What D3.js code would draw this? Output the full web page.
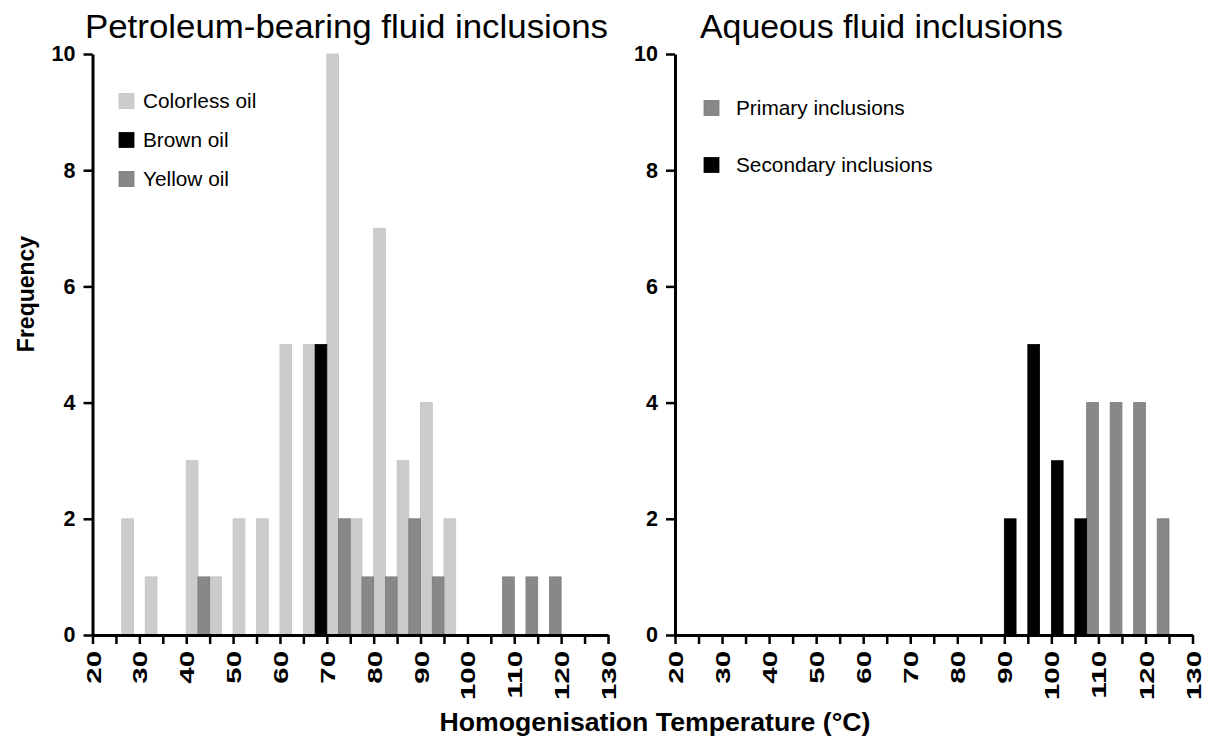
<!DOCTYPE html>
<html>
<head>
<meta charset="utf-8">
<script src="https://cdn.jsdelivr.net/npm/d3@7"></script>
<style>
  html, body { margin: 0; padding: 0; background: #fff; }
  svg { display: block; font-family: "Liberation Sans", Arial, sans-serif; }
</style>
</head>
<body>
<svg id="chart" width="1208" height="753"></svg>
<script>
// ---------- DATA ----------
const xTicks = [20, 25, 30, 35, 40, 45, 50, 55, 60, 65, 70, 75, 80, 85, 90, 95, 100, 105, 110, 115, 120, 125, 130];
const yTicks = [0, 2, 4, 6, 8, 10];
const binWidth = 2.5; // °C per bar

// Petroleum-bearing fluid inclusions (bar centre temperature, frequency)
const colorlessT = [27.5, 32.5, 41.25, 46.25, 51.25, 56.25, 61.25, 66.25, 71.25, 76.25, 81.25, 86.25, 91.25, 96.25];
const colorlessN = [2, 1, 3, 1, 2, 2, 5, 5, 10, 2, 7, 3, 4, 2];
const brownT = [68.75];
const brownN = [5];
const yellowT = [43.75, 73.75, 78.75, 83.75, 88.75, 93.75, 108.75, 113.75, 118.75];
const yellowN = [1, 2, 1, 1, 2, 1, 1, 1, 1];

// Aqueous fluid inclusions
const primaryT = [108.75, 113.75, 118.75, 123.75];
const primaryN = [4, 4, 4, 2];
const secondaryT = [91.25, 96.25, 101.25, 106.25];
const secondaryN = [2, 5, 3, 2];

const titles = ["Petroleum-bearing fluid inclusions", "Aqueous fluid inclusions"];
const yLabel = "Frequency";
const xLabel = "Homogenisation Temperature (°C)";

// ---------- CHART ----------
const svg = d3.select("#chart");
const FONT = '"Liberation Sans", Arial, sans-serif';

const y = d3.scaleLinear().domain([0, 10]).range([635, 54]);

function zip(ts, ns) { return ts.map((t, i) => ({ t, n: ns[i] })); }

const panels = [
  {
    title: titles[0], range: [92.5, 608], titleX: 346.5, titleLen: 523,
    series: [
      { name: "Colorless oil", color: "#cccccc", stroke: "#c2c2c2", data: zip(colorlessT, colorlessN) },
      { name: "Brown oil", color: "#000000", stroke: "#000000", data: zip(brownT, brownN) },
      { name: "Yellow oil", color: "#888888", stroke: "#7a7a7a", data: zip(yellowT, yellowN) }
    ],
    legend: { x: 119, y0: 101, dy: 39, gap: 24 }
  },
  {
    title: titles[1], range: [675, 1192.5], titleX: 881.5, titleLen: 363,
    series: [
      { name: "Primary inclusions", color: "#888888", stroke: "#7a7a7a", data: zip(primaryT, primaryN) },
      { name: "Secondary inclusions", color: "#000000", stroke: "#000000", data: zip(secondaryT, secondaryN) }
    ],
    legend: { x: 704, y0: 108, dy: 57, gap: 32 }
  }
];

panels.forEach(p => {
  const x = d3.scaleLinear().domain([20, 130]).range(p.range);
  const g = svg.append("g");

  // bars
  p.series.forEach(s => {
    g.append("g").selectAll("rect").data(s.data).enter().append("rect")
      .attr("x", d => x(d.t - binWidth / 2))
      .attr("width", d => x(d.t + binWidth / 2) - x(d.t - binWidth / 2))
      .attr("y", d => y(d.n))
      .attr("height", d => y(0) - y(d.n))
      .attr("fill", s.color)
      .attr("stroke", s.stroke)
      .attr("stroke-width", 0.8);
  });

  // x axis
  const xAxis = d3.axisBottom(x)
    .tickValues(xTicks)
    .tickSize(9)
    .tickSizeOuter(0)
    .tickFormat(d => (d % 10 === 0 ? d : ""));
  const gx = g.append("g").attr("transform", `translate(0,${y(0)})`).call(xAxis);
  gx.select(".domain").attr("stroke", "#000").attr("stroke-width", 3);
  gx.selectAll(".tick line").attr("stroke", "#000").attr("stroke-width", 2.5);
  gx.selectAll(".tick text")
    .attr("transform", "translate(0,16) rotate(-90) scale(1.4,1)")
    .attr("x", 0).attr("y", 0).attr("dy", "0.36em")
    .attr("text-anchor", "end")
    .attr("font-family", FONT).attr("font-weight", "bold").attr("font-size", 21)
    .attr("fill", "#000");

  // y axis
  const yAxis = d3.axisLeft(y).tickValues(yTicks).tickSize(9).tickSizeOuter(0).tickPadding(8);
  const gy = g.append("g").attr("transform", `translate(${p.range[0]},0)`).call(yAxis);
  gy.select(".domain").attr("stroke", "#000").attr("stroke-width", 3);
  gy.selectAll(".tick line").attr("stroke", "#000").attr("stroke-width", 2.5);
  gy.selectAll(".tick text")
    .attr("font-family", FONT).attr("font-weight", "bold").attr("font-size", 21.5)
    .attr("fill", "#000");

  // title
  g.append("text")
    .attr("x", p.titleX).attr("y", 38)
    .attr("text-anchor", "middle")
    .attr("font-family", FONT).attr("font-size", 34)
    .attr("textLength", p.titleLen)
    .attr("lengthAdjust", "spacingAndGlyphs")
    .attr("fill", "#000")
    .text(p.title);

  // legend
  const lg = g.append("g");
  p.series.forEach((s, i) => {
    const cy = p.legend.y0 + i * p.legend.dy;
    lg.append("rect")
      .attr("x", p.legend.x).attr("y", cy - 7.5)
      .attr("width", 15).attr("height", 15)
      .attr("fill", s.color).attr("stroke", s.stroke).attr("stroke-width", 0.8);
    lg.append("text")
      .attr("x", p.legend.x + p.legend.gap).attr("y", cy)
      .attr("dy", "0.36em")
      .attr("font-family", FONT).attr("font-size", 20.8)
      .attr("fill", "#000")
      .text(s.name);
  });
});

// axis labels
svg.append("text")
  .attr("transform", "translate(34,294) rotate(-90)")
  .attr("text-anchor", "middle")
  .attr("font-family", FONT).attr("font-weight", "bold").attr("font-size", 23)
  .attr("fill", "#000")
  .text(yLabel);

svg.append("text")
  .attr("x", 655).attr("y", 731)
  .attr("text-anchor", "middle")
  .attr("font-family", FONT).attr("font-weight", "bold").attr("font-size", 26)
  .attr("fill", "#000")
  .attr("textLength", 431)
  .attr("lengthAdjust", "spacingAndGlyphs")
  .text(xLabel);
</script>
</body>
</html>
